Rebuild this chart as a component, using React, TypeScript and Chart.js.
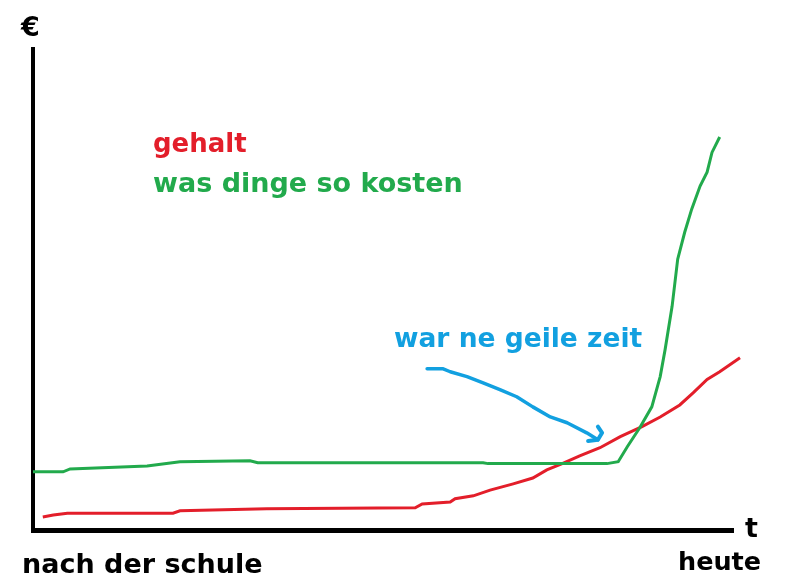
import React, { useEffect, useRef } from "react";
import { Chart, registerables } from "chart.js";

Chart.register(...registerables);

// time axis 0..100 (nach der schule -> heute), money axis 0..100
const gehaltX = [1.4, 2.9, 4.9, 20, 21, 33.4, 54.6, 55.6, 59.6, 60.3, 62.9, 65.3, 68.6, 71.4, 73.4, 75.6, 78.1, 81, 83.9, 87, 89.6, 92.4, 94.3, 96.3, 98.1, 101];
const gehaltY = [2.7, 3.1, 3.5, 3.5, 4.0, 4.4, 4.6, 5.4, 5.8, 6.5, 7.1, 8.3, 9.6, 10.8, 12.5, 13.8, 15.4, 17.1, 19.4, 21.5, 23.5, 26, 28.5, 31.3, 32.9, 35.8];

const kostenX = [0, 4.3, 5.3, 16.3, 21, 31, 32.1, 64.3, 65, 82, 83.6, 84.9, 86.7, 88.4, 89.6, 90.3, 91.3, 92.1, 93.1, 94.1, 95.3, 96.3, 97, 98.1];
const kostenY = [12.1, 12.1, 12.7, 13.3, 14.2, 14.4, 14.0, 14.0, 13.8, 13.8, 14.2, 17.3, 21.3, 25.6, 31.9, 37.5, 46.5, 56.3, 61.9, 66.7, 71.5, 74.4, 78.5, 81.7];

const pfeilX = [56.3, 58.6, 59.6, 62, 64.3, 66.7, 69.1, 71.4, 73.9, 76.3, 79.1, 80.7];
const pfeilY = [33.5, 33.5, 32.9, 31.9, 30.6, 29.2, 27.7, 25.6, 23.5, 22.3, 20.2, 18.75];
const spitzeX = [79.3, 80.7, 81.3, 80.7];
const spitzeY = [18.5, 18.75, 20.2, 21.5];

const labelGehalt = "gehalt";
const labelKosten = "was dinge so kosten";
const labelZeit = "war ne geile zeit";
const yLabel = "€";
const xLabel = "t";
const startLabel = "nach der schule";
const endLabel = "heute";

const RED = "#E31E2A";
const GREEN = "#22AA4C";
const BLUE = "#12A0E0";
const FONT = "'DejaVu Sans', sans-serif";

const toPts = (xs: number[], ys: number[]) => xs.map((x, i) => ({ x, y: ys[i] }));

export default function App() {
  const ref = useRef<HTMLCanvasElement | null>(null);
  useEffect(() => {
    const canvas = ref.current;
    if (!canvas) return;
    const textPlugin = {
      id: "texts",
      afterDraw(chart: any) {
        const ctx = chart.ctx as CanvasRenderingContext2D;
        ctx.save();
        ctx.textBaseline = "alphabetic";
        ctx.textAlign = "left";
        const put = (t: string, x: number, y: number, size: number, color: string) => {
          ctx.font = `bold ${size}px ${FONT}`;
          ctx.fillStyle = color;
          ctx.fillText(t, x, y);
        };
        put(yLabel, 21, 36, 27, "#000");
        put(labelGehalt, 153, 152, 26, RED);
        put(labelKosten, 153, 192, 27, GREEN);
        put(labelZeit, 394, 347, 26.5, BLUE);
        put(xLabel, 745, 537, 27, "#000");
        put(startLabel, 22, 573, 27, "#000");
        put(endLabel, 678, 570, 25.5, "#000");
        ctx.restore();
      },
    };
    const chart = new Chart(canvas, {
      type: "line",
      data: {
        datasets: [
          {
            label: labelKosten,
            data: toPts(kostenX, kostenY),
            borderColor: GREEN,
            borderWidth: 3,
            pointRadius: 0,
            clip: false as any,
          },
          {
            label: labelGehalt,
            data: toPts(gehaltX, gehaltY),
            borderColor: RED,
            borderWidth: 3,
            pointRadius: 0,
            clip: false as any,
          },
          {
            label: labelZeit,
            data: toPts(pfeilX, pfeilY),
            borderColor: BLUE,
            borderWidth: 3.5,
            pointRadius: 0,
            borderCapStyle: "round",
            borderJoinStyle: "round",
            clip: false as any,
          },
          {
            label: "spitze",
            data: toPts(spitzeX, spitzeY),
            borderColor: BLUE,
            borderWidth: 4,
            pointRadius: 0,
            borderCapStyle: "round",
            borderJoinStyle: "round",
            clip: false as any,
          },
        ],
      },
      options: {
        responsive: false,
        animation: false,
        layout: { padding: { left: 33, top: 49, right: 54, bottom: 57 } },
        plugins: { legend: { display: false }, tooltip: { enabled: false }, title: { display: false } },
        scales: {
          x: {
            type: "linear",
            min: 0,
            max: 100,
            grid: { display: false, drawTicks: false },
            ticks: { display: false },
            border: { display: true, color: "#000", width: 5 },
          },
          y: {
            type: "linear",
            min: 0,
            max: 100,
            grid: { display: false, drawTicks: false },
            ticks: { display: false },
            border: { display: true, color: "#000", width: 4 },
          },
        },
      },
      plugins: [textPlugin],
    });
    return () => chart.destroy();
  }, []);
  return (
    <div style={{ position: "absolute", left: 0, top: 0, width: 787, height: 587, background: "#fff" }}>
      <canvas ref={ref} width={787} height={587} style={{ display: "block", width: 787, height: 587 }} />
    </div>
  );
}
